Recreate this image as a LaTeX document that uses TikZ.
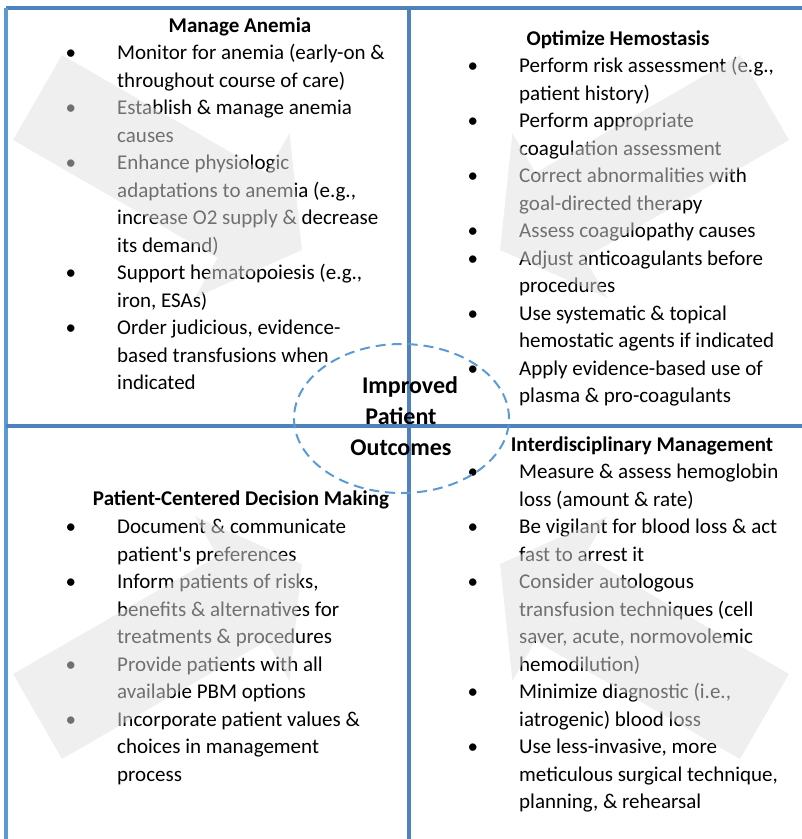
\documentclass[tikz,border=0pt]{standalone}
\usepackage{fontspec}
\setmainfont{Carlito}
\definecolor{lineblue}{HTML}{4F81BD}
\definecolor{leftblue}{HTML}{5B9BD5}
\definecolor{dashblue}{HTML}{5B9BD5}
\newcommand{\bl}{\llap{\textbullet\hspace{41pt}}}
\newcommand{\bgarrowpath}{(62,55) -- (13,140) -- (217.6,258) -- (194.6,297.9) -- (301.9,250) -- (289.6,133.1) -- (266.6,173) -- cycle}
\tikzset{
  txt/.style={anchor=base west, inner sep=0pt, font=\fontsize{21}{27.5}\selectfont},
  headtxt/.style={anchor=base, inner sep=0pt, font=\fontsize{21}{27.5}\selectfont\bfseries},
  midtxt/.style={anchor=base, inner sep=0pt, font=\fontsize{24}{31}\selectfont\bfseries},
  divider/.style={line width=3.5pt, draw=lineblue},
  shadearrow/.style={fill=black!12, fill opacity=0.5},
  outcome/.style={draw=dashblue, line width=2pt, dash pattern=on 10pt off 6pt},
}
\begin{document}
\begin{tikzpicture}[x=1pt, y=-1pt]
\useasboundingbox (0,0) rectangle (802,839);
% frame and dividers
\coordinate (tl) at (6,8);
\coordinate (tr) at (802,8);
\coordinate (bl) at (6,839);
\coordinate (vt) at (409,8);
\coordinate (vb) at (409,839);
\coordinate (hl) at (6,426);
\coordinate (hr) at (802,426);
\draw[divider] (tl) -- (tr);
\draw[divider, draw=leftblue] (tl) -- (bl);
\draw[divider] (vt) -- (vb);
\draw[divider] (hl) -- (hr);

% headings
\node[headtxt] (h1) at (240,32) {Manage Anemia};
\node[headtxt] (h2) at (618,45) {Optimize Hemostasis};
\node[headtxt] (h3) at (241,505) {Patient-Centered Decision Making};
\node[headtxt] (h4) at (642,451) {Interdisciplinary Management};

% top-left list
\foreach \t [count=\i] in {
  {\bl Monitor for anemia (early-on \&},
  {throughout course of care)},
  {\bl Establish \& manage anemia},
  {causes},
  {\bl Enhance physiologic},
  {adaptations to anemia (e.g.,},
  {increase O2 supply \& decrease},
  {its demand)},
  {\bl Support hematopoiesis (e.g.,},
  {iron, ESAs)},
  {\bl Order judicious, evidence-},
  {based transfusions when},
  {indicated}}
  \node[txt] (tla\i) at (117,{59.5+(\i-1)*27.5}) {\t};

% top-right list
\foreach \t [count=\i] in {
  {\bl Perform risk assessment (e.g.,},
  {patient history)},
  {\bl Perform appropriate},
  {coagulation assessment},
  {\bl Correct abnormalities with},
  {goal-directed therapy},
  {\bl Assess coagulopathy causes},
  {\bl Adjust anticoagulants before},
  {procedures},
  {\bl Use systematic \& topical},
  {hemostatic agents if indicated},
  {\bl Apply evidence-based use of},
  {plasma \& pro-coagulants}}
  \node[txt] (tra\i) at (519,{72.5+(\i-1)*27.5}) {\t};

% bottom-left list
\foreach \t [count=\i] in {
  {\bl Document \& communicate},
  {patient\textquotesingle s preferences},
  {\bl Inform patients of risks,},
  {benefits \& alternatives for},
  {treatments \& procedures},
  {\bl Provide patients with all},
  {available PBM options},
  {\bl Incorporate patient values \&},
  {choices in management},
  {process}}
  \node[txt] (bla\i) at (117,{533.5+(\i-1)*27.5}) {\t};

% bottom-right list
\foreach \t [count=\i] in {
  {\bl Measure \& assess hemoglobin},
  {loss (amount \& rate)},
  {\bl Be vigilant for blood loss \& act},
  {fast to arrest it},
  {\bl Consider autologous},
  {transfusion techniques (cell},
  {saver, acute, normovolemic},
  {hemodilution)},
  {\bl Minimize diagnostic (i.e.,},
  {iatrogenic) blood loss},
  {\bl Use less-invasive, more},
  {meticulous surgical technique,},
  {planning, \& rehearsal}}
  \node[txt] (bra\i) at (519,{478.5+(\i-1)*27.5}) {\t};

% translucent background arrows
\fill[shadearrow] \bgarrowpath;
\begin{scope}[shift={(802,0)}, xscale=-1]
  \fill[shadearrow] \bgarrowpath;
\end{scope}
\begin{scope}[shift={(0,814)}, yscale=-1]
  \fill[shadearrow] \bgarrowpath;
\end{scope}
\begin{scope}[shift={(802,814)}, xscale=-1, yscale=-1]
  \fill[shadearrow] \bgarrowpath;
\end{scope}

% centre
\coordinate (oc) at (401.5,418.5);
\draw[outcome] (oc) ellipse [x radius=107.5pt, y radius=74.5pt];
\node[midtxt] (m1) at (410,393) {Improved};
\node[midtxt] (m2) at (401,424) {Patient};
\node[midtxt] (m3) at (401,455) {Outcomes};
\end{tikzpicture}
\end{document}
